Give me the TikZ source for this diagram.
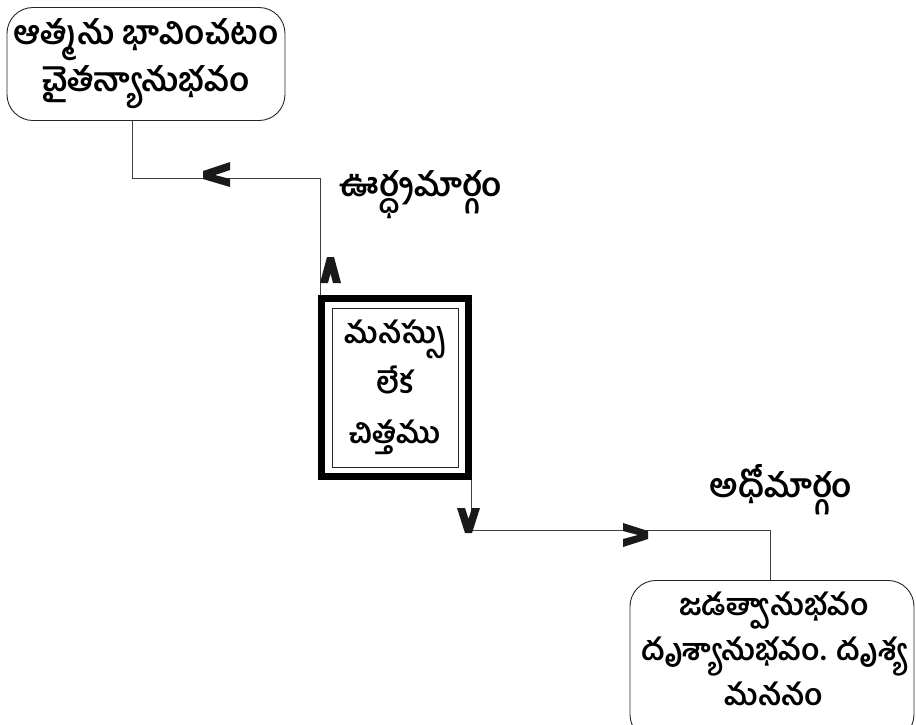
\documentclass[tikz,border=0pt]{standalone}
\usepackage{fontspec}
\newfontfamily\te[Script=Telugu]{Hind Guntur}
\begin{document}
\begin{tikzpicture}[x=1pt,y=-1pt,
  conn/.style={draw=black!75, line width=0.9pt},
  rbox/.style={draw=black!85, line width=0.9pt, rounded corners=26pt, align=center, inner sep=0pt},
  lbl/.style={font=\te\bfseries\fontsize{33}{36}\selectfont, inner sep=0pt},
  chev/.style={fill=black!90, draw=none}]
\useasboundingbox (0,0) rectangle (916,724);
% boxes
\node[rbox, font=\te\bfseries\fontsize{33}{47}\selectfont, minimum width=278pt, minimum height=113pt] (tl) at (146,64) {ఆత్మను భావించటం\\చైతన్యానుభవం};
\node[draw=black, line width=7pt, minimum width=147pt, minimum height=178pt, inner sep=0pt] (mid) at (395,387.5) {};
\node[draw=black!85, line width=0.8pt, minimum width=126pt, minimum height=159pt, align=center, inner sep=0pt, font=\te\bfseries\fontsize{30}{50}\selectfont] (midt) at (395,387.5) {మనస్సు\\లేక\\చిత్తము};
\node[rbox, minimum width=284pt, minimum height=160pt, anchor=north] (br) at (772,580) {};
\node[align=center, inner sep=0pt, text depth=0pt, anchor=south, font=\te\bfseries\fontsize{30}{45}\selectfont] (brt) at (774,706) {జడత్వానుభవం\\దృశ్యానుభవం. దృశ్య\\మననం};
% labels
\node[lbl] (up) at (421,195) {ఊర్ధ్వమార్గం};
\node[lbl] (dn) at (781,490) {అధోమార్గం};
% connectors
\coordinate (c1) at (132,0);
\coordinate (j1) at (320,178);
\coordinate (j2) at (471,530);
\coordinate (c3) at (770,0);
\draw[conn] (tl.south -| c1) |- (j1) -- (j1 |- mid.north);
\draw[conn] (j2 |- mid.south) -- (j2) -| (br.north -| c3);
% arrow marks
\fill[chev] (230,162) -- (203,171) -- (203,179) -- (230,187) -- (230,179) -- (215,175) -- (230,170) -- cycle;
\fill[chev] (320,283) -- (327,257) -- (334,257) -- (341,283) -- (333,283) -- (330.5,273.5) -- (328,283) -- cycle;
\fill[chev] (457,508) -- (465,508) -- (468.5,519) -- (472,508) -- (480,508) -- (472,533) -- (465,533) -- cycle;
\fill[chev] (623,523) -- (648,531) -- (648,539) -- (623,547) -- (623,539) -- (638,535) -- (623,531) -- cycle;
\end{tikzpicture}
\end{document}
